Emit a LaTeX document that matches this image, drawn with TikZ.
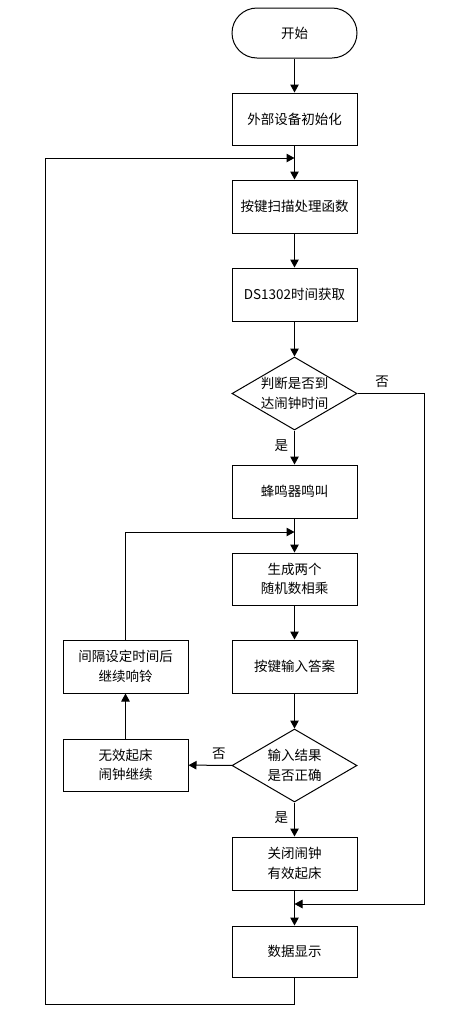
\documentclass[tikz,border=0pt]{standalone}
\usepackage{fontspec}
\setmainfont{Noto Sans CJK SC}
\usetikzlibrary{shapes.geometric,arrows.meta}
\begin{document}
\begin{tikzpicture}[x=1pt,y=-1pt,
  every node/.style={font=\fontsize{13.5}{19.5}\selectfont},
  procbox/.style={draw,line width=1pt,minimum width=125pt,minimum height=53pt,inner sep=0pt,align=center},
  termbox/.style={draw,line width=1pt,minimum width=125pt,minimum height=50pt,rounded corners=25pt,inner sep=0pt},
  decbox/.style={draw,line width=1pt,diamond,aspect=1.71,minimum width=125pt,minimum height=73pt,inner sep=0pt,align=center},
  conn/.style={line width=1pt,-{Triangle[length=8pt,width=8.5pt]}},
  plain/.style={line width=1pt},
  lbl/.style={inner sep=0pt}]
\useasboundingbox (0,0) rectangle (475,1018);
\node[termbox] (start) at (294.5,33) {开始};
\node[procbox,minimum height=52pt] (init) at (294.5,119) {外部设备初始化};
\node[procbox] (scan) at (294.5,206.5) {按键扫描处理函数};
\node[procbox] (ds) at (294.5,294.5) {DS1302时间获取};
\node[decbox] (d1) at (294.5,393.5) {判断是否到\\达闹钟时间};
\node[procbox] (buzz) at (294.5,491.5) {蜂鸣器鸣叫};
\node[procbox,minimum height=52pt] (rand) at (294.5,579) {生成两个\\随机数相乘};
\node[procbox] (input) at (294.5,666.5) {按键输入答案};
\node[decbox] (d2) at (294.5,765.5) {输入结果\\是否正确};
\node[procbox] (close) at (294.5,863.5) {关闭闹钟\\有效起床};
\node[procbox,minimum height=51pt] (show) at (294.5,951.5) {数据显示};
\node[procbox] (interval) at (125.5,666.5) {间隔设定时间后\\继续响铃};
\node[procbox,minimum height=52pt] (invalid) at (125.5,765) {无效起床\\闹钟继续};

\coordinate (j1) at (294.5,158);
\coordinate (j2) at (294.5,532);
\coordinate (j3) at (294.5,904);

\draw[conn] (start) -- (init);
\draw[conn] (init) -- (scan);
\draw[conn] (scan) -- (ds);
\draw[conn] (ds) -- (d1);
\draw[conn] (d1) -- node[lbl,pos=0.45,left=6pt] {是} (buzz);
\draw[conn] (buzz) -- (rand);
\draw[conn] (rand) -- (input);
\draw[conn] (input) -- (d2);
\draw[conn] (d2) -- node[lbl,pos=0.45,left=6pt] {是} (close);
\draw[conn] (close) -- (show);
\draw[conn] (d2) -- node[lbl,pos=0.3,above=5pt] {否} (invalid);
\draw[conn] (invalid) -- (interval);
\draw[conn] (interval.north) |- (j2);
\draw[conn] (show.south) -- (294.5,1004) -| (45,158) -- (j1);
\draw[conn] (d1.east) -- (424,393.5) -- (424,904) -- (j3);
\node[lbl] (no1) at (382,382) {否};
\end{tikzpicture}
\end{document}
